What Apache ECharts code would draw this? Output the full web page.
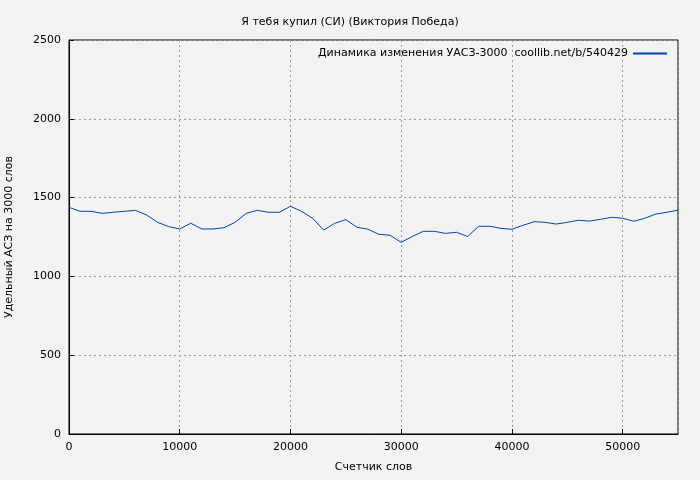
<!DOCTYPE html>
<html><head><meta charset="utf-8">
<script src="https://cdn.jsdelivr.net/npm/echarts@6/dist/echarts.min.js"></script>
<style>html,body{margin:0;padding:0;background:#f2f2f2}#c{width:700px;height:480px}</style>
</head><body><div id="c"></div>
<script>
const words = [0,1000,2000,3000,4000,5000,6000,7000,8000,9000,10000,11000,12000,13000,14000,15000,16000,17000,18000,19000,20000,21000,22000,23000,24000,25000,26000,27000,28000,29000,30000,31000,32000,33000,34000,35000,36000,37000,38000,39000,40000,41000,42000,43000,44000,45000,46000,47000,48000,49000,50000,51000,52000,53000,54000,55000];
const values = [1438,1413,1413,1400,1407,1413,1419,1390,1343,1316,1301,1337,1301,1301,1309,1343,1400,1419,1407,1407,1445,1413,1369,1294,1337,1360,1312,1299,1267,1261,1216,1253,1286,1286,1273,1280,1253,1318,1318,1305,1299,1324,1347,1343,1332,1343,1356,1351,1362,1375,1369,1350,1369,1396,1407,1420];
const seriesName = 'Динамика изменения УАСЗ-3000  coollib.net/b/540429';
const chart = echarts.init(document.getElementById('c'));
const font = 'DejaVu Sans';
chart.setOption({
  backgroundColor:'#f2f2f2',
  animation:false,
  title:{text:'Я тебя купил (СИ) (Виктория Победа)',left:'center',top:12,textStyle:{fontFamily:font,fontSize:11,fontWeight:'normal',color:'#000'}},
  legend:{right:28,top:43,itemWidth:34,itemHeight:2,icon:'rect',itemGap:6,textStyle:{fontFamily:font,fontSize:11,color:'#000'},align:'right',
    data:[{name:seriesName}]},
  grid:{left:69,right:22,top:40,bottom:46,containLabel:false,outerBoundsMode:'none',show:true,borderColor:'#000',borderWidth:1,backgroundColor:'transparent'},
  xAxis:{type:'value',min:0,max:55000,interval:10000,name:'Счетчик слов',nameLocation:'middle',nameGap:28,
    nameTextStyle:{fontFamily:font,fontSize:11,color:'#000'},
    axisLine:{lineStyle:{color:'#000'}},axisTick:{inside:true,lineStyle:{color:'#000'}},
    axisLabel:{fontFamily:font,fontSize:11,color:'#000',showMaxLabel:false,formatter:v=>String(v)},
    splitLine:{show:true,lineStyle:{color:'#999',type:[2,3]}}},
  yAxis:{type:'value',min:0,max:2500,interval:500,name:'Удельный АСЗ на 3000 слов',nameLocation:'middle',nameGap:54,
    nameTextStyle:{fontFamily:font,fontSize:11,color:'#000'},
    axisLine:{show:true,lineStyle:{color:'#000'}},axisTick:{show:true,inside:true,lineStyle:{color:'#000'}},
    axisLabel:{fontFamily:font,fontSize:11,color:'#000',formatter:v=>String(v)},
    splitLine:{show:true,lineStyle:{color:'#999',type:[2,3]}}},
  series:[{name:seriesName,type:'line',data:words.map((w,i)=>[w,values[i]]),showSymbol:false,
    lineStyle:{color:'#0044aa',width:1},itemStyle:{color:'#0044aa'}}]
});
</script></body></html>
